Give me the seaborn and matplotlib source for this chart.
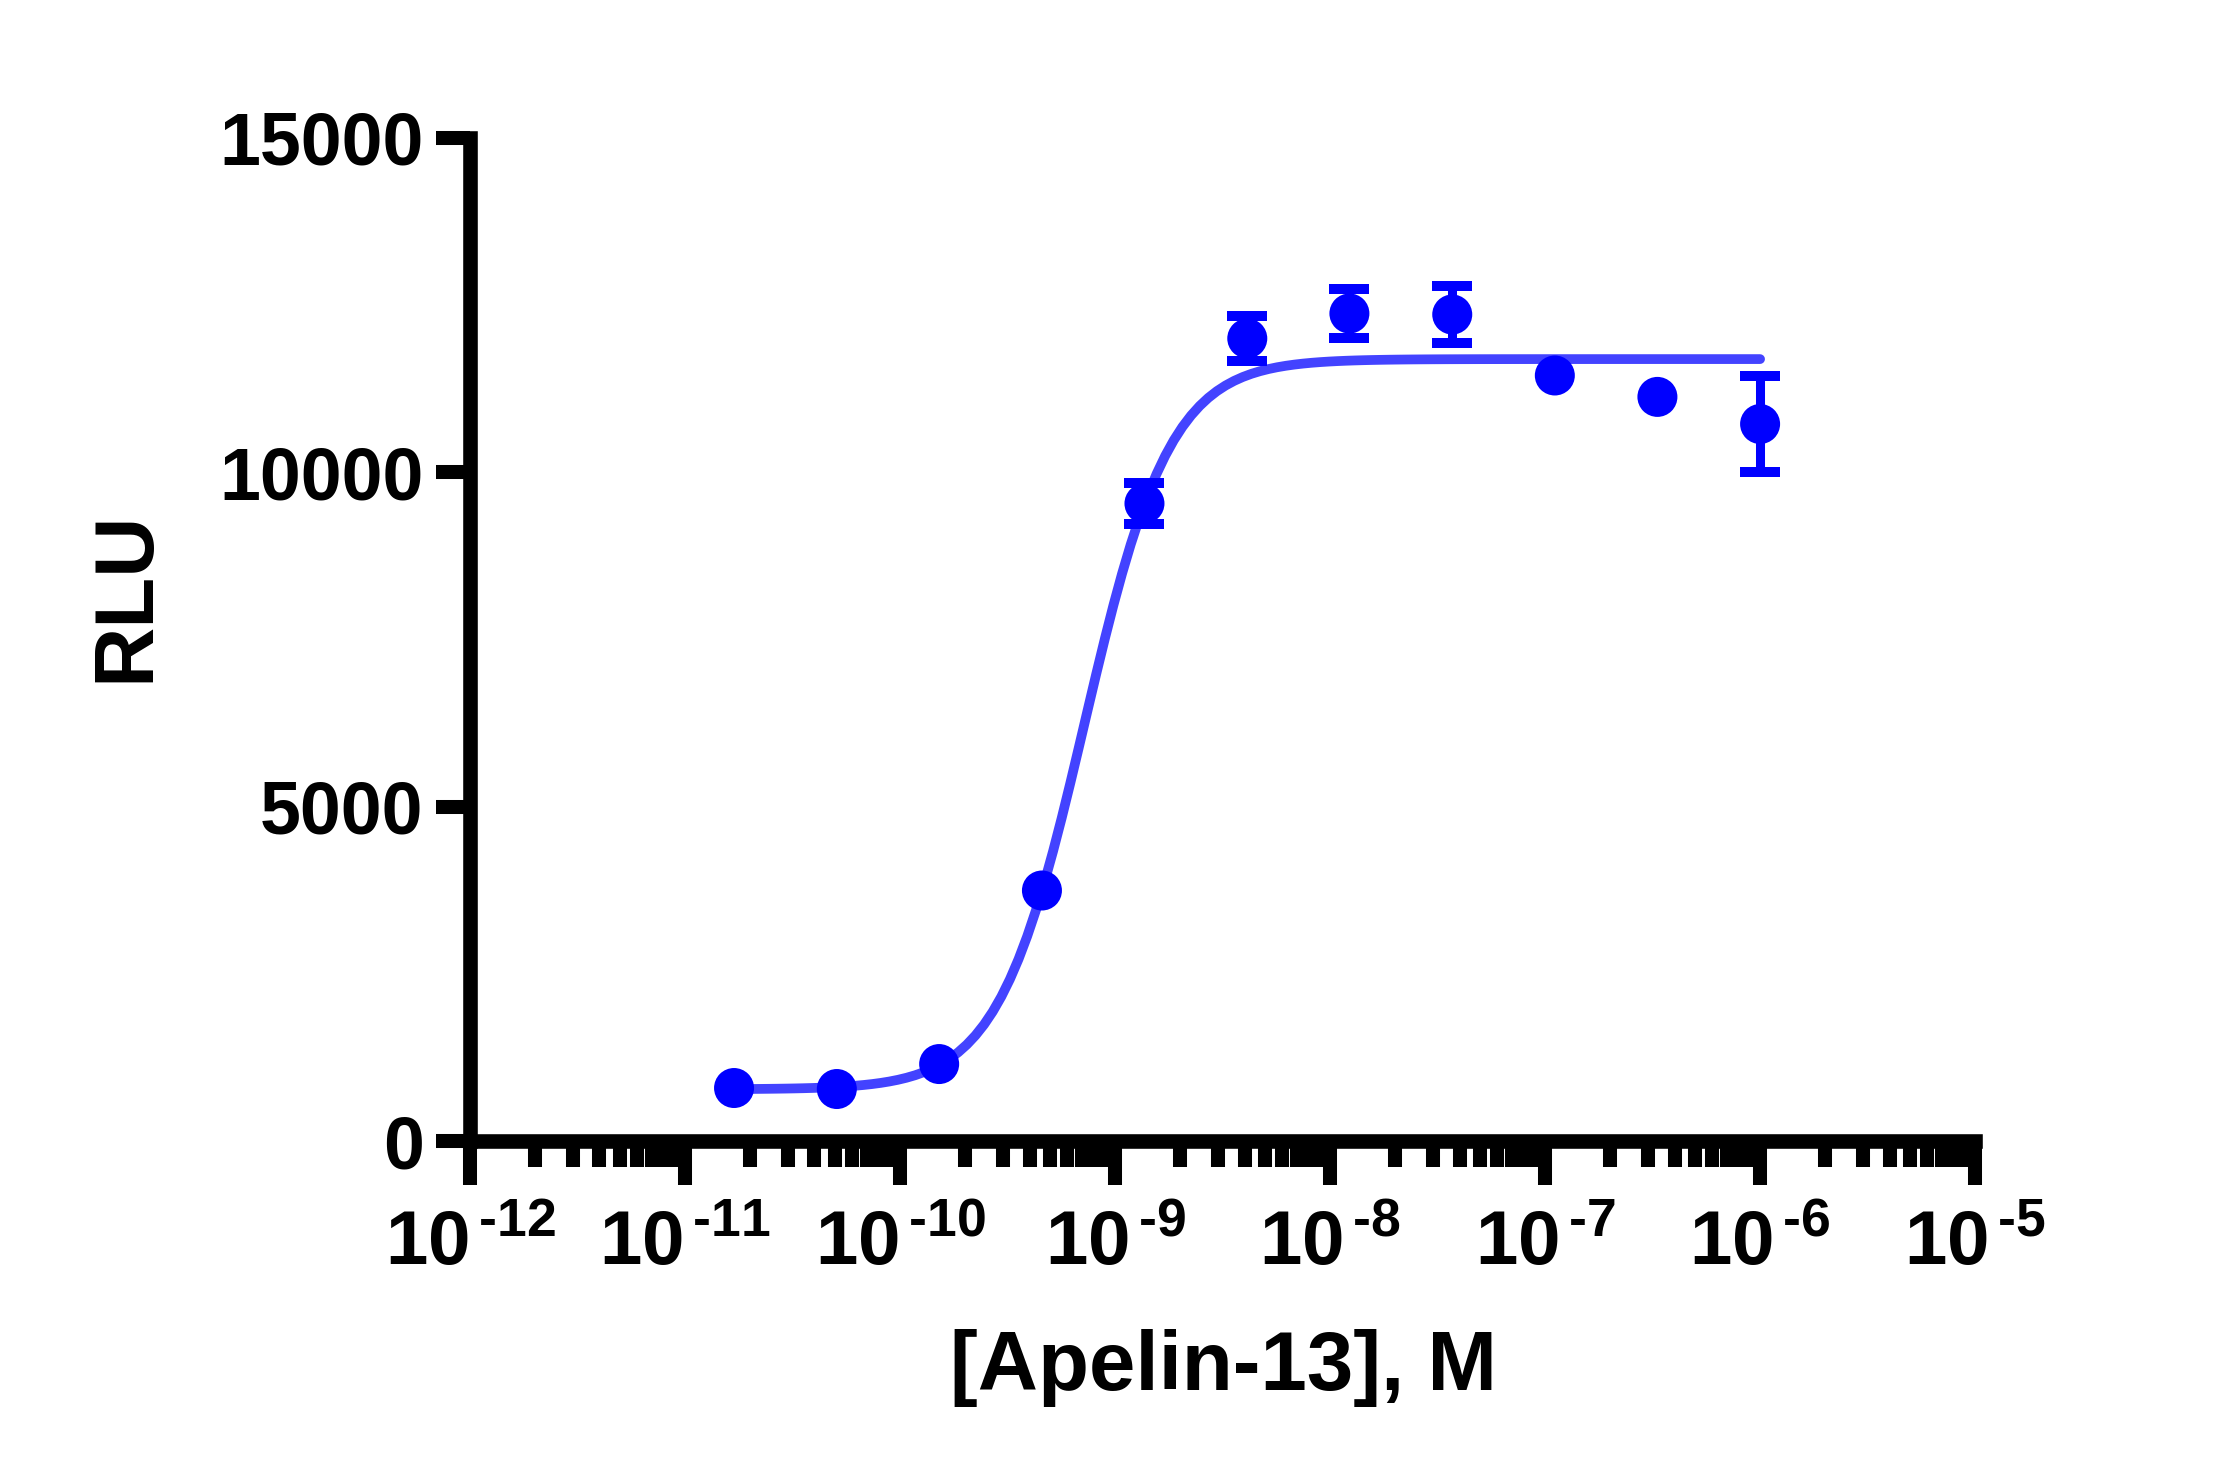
import numpy as np
import pandas as pd
import matplotlib
matplotlib.use("Agg")
import matplotlib.pyplot as plt
from matplotlib.ticker import LogLocator, NullLocator, NullFormatter, FuncFormatter
import seaborn as sns

# Apelin-13 dose-response, mean +/- SEM
CONC_M = [1.69e-11, 5.08e-11, 1.52e-10, 4.57e-10, 1.37e-9, 4.12e-9,
          1.23e-8, 3.70e-8, 1.11e-7, 3.33e-7, 1.0e-6]
RLU_MEAN = [799, 784, 1157, 3750, 9532, 11998, 12371, 12356, 11445, 11125, 10720]
# nan = bar shorter than the symbol, so it is not drawn
RLU_SEM = [np.nan, np.nan, np.nan, np.nan, 300, 336, 373, 423, np.nan, np.nan, 717]

# four-parameter logistic fit shown as the line
FIT_BOTTOM = 780
FIT_TOP = 11690
FIT_LOGEC50 = -9.143
FIT_HILL = 2.17

Y_TICKS = [0, 5000, 10000, 15000]

BLUE = "#0000FF"
LINE_BLUE = "#4343FF"

sns.set_style("ticks", {
    "axes.edgecolor": "black",
    "xtick.color": "black",
    "ytick.color": "black",
    "text.color": "black",
    "axes.labelcolor": "black",
})
plt.rcParams["font.family"] = ["Liberation Sans", "DejaVu Sans"]
plt.rcParams["font.weight"] = "bold"
plt.rcParams["axes.labelweight"] = "bold"
plt.rcParams["mathtext.fontset"] = "custom"
plt.rcParams["mathtext.rm"] = "Liberation Sans:bold"
plt.rcParams["mathtext.it"] = "Liberation Sans:bold"
plt.rcParams["mathtext.bf"] = "Liberation Sans:bold"


def decade_label(value, pos):
    exp = int(round(np.log10(value)))
    return r"$\mathdefault{10}^{\,\text{%d}}$" % exp


df = pd.DataFrame({"conc": CONC_M, "rlu": RLU_MEAN, "sem": RLU_SEM})

x_fit = np.logspace(np.log10(CONC_M[0]), np.log10(CONC_M[-1]), 120)
y_fit = FIT_BOTTOM + (FIT_TOP - FIT_BOTTOM) / (1 + 10 ** ((FIT_LOGEC50 - np.log10(x_fit)) * FIT_HILL))
fit_df = pd.DataFrame({"conc": x_fit, "rlu": y_fit})

fig = plt.figure(figsize=(22.13, 14.79), dpi=100)
ax = fig.add_axes([0.2124, 0.2282, 0.6801, 0.6788])
ax.set_xscale("log")

sns.lineplot(data=fit_df, x="conc", y="rlu", color=LINE_BLUE, lw=7, ax=ax, zorder=2)
bars = df.dropna(subset=["sem"])
ax.errorbar(bars["conc"], bars["rlu"], yerr=bars["sem"], fmt="none", ecolor=BLUE,
            elinewidth=6.5, capsize=14.4, capthick=7.2, zorder=3)
sns.scatterplot(data=df, x="conc", y="rlu", color=BLUE, s=28.8 ** 2,
                edgecolor="none", ax=ax, zorder=4)

sns.despine(ax=ax)
for side in ["left", "bottom"]:
    ax.spines[side].set_linewidth(10.5)

ax.set_xlim(1e-12, 1e-5)
ax.set_ylim(0, 15000)
ax.set_yticks(Y_TICKS)
ax.yaxis.set_minor_locator(NullLocator())
ax.xaxis.set_major_locator(LogLocator(base=10, numticks=20))
ax.xaxis.set_major_formatter(FuncFormatter(decade_label))
ax.xaxis.set_minor_locator(LogLocator(base=10, subs=np.arange(2, 10), numticks=100))
ax.xaxis.set_minor_formatter(NullFormatter())

ax.tick_params(axis="y", which="major", length=24.5, width=10.1, pad=9, labelsize=53)
ax.tick_params(axis="x", which="major", length=32, width=10.1, pad=17, labelsize=55)
ax.tick_params(axis="x", which="minor", length=18.4, width=10.1)

ax.set_xlabel("[Apelin-13], M", fontsize=60, fontweight="bold")
ax.xaxis.set_label_coords(0.5003, -0.1867)
ax.set_ylabel("RLU", fontsize=60, fontweight="bold", va="center")
ax.yaxis.set_label_coords(-0.2286, 0.5433)

fig.savefig("out.png", dpi=100)
